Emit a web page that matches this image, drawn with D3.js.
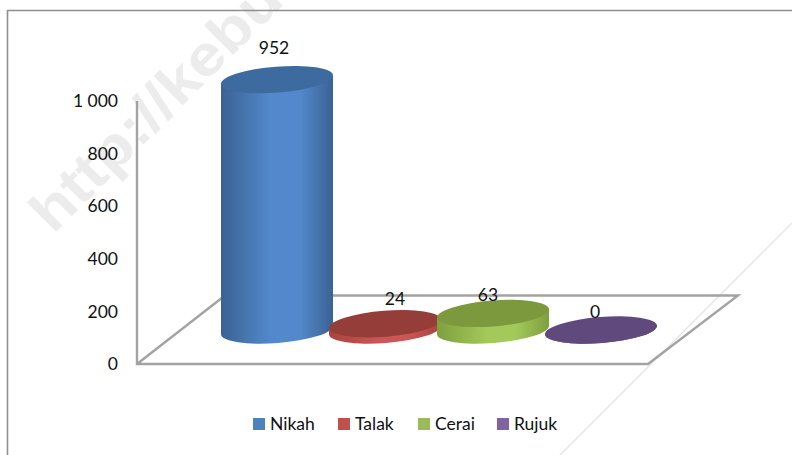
<!DOCTYPE html>
<html><head><meta charset="utf-8">
<script src="https://cdn.jsdelivr.net/npm/d3@7/dist/d3.min.js"></script>
<style>html,body{margin:0;padding:0;background:#fff;overflow:hidden}svg{display:block}
text{font-family:Lato,"Open Sans",sans-serif;fill:#111}</style></head>
<body><svg id="c" width="792" height="455"></svg>
<script>
const categories = ["Nikah","Talak","Cerai","Rujuk"];
const values = [952,24,63,0];
const tickValues = [0,200,400,600,800,1000];
const tickLabels = ["0","200","400","600","800","1 000"];
const bodyDark = ["#3a6293","#a8423f","#7f9f3f","#5c4776"];
const bodyLight = ["#5389cc","#cb5754","#a3c95a","#6b5289"];
const capColors = ["#3e6b9f","#953c39","#7b9a3c","#604a7c"];
const legendColors = ["#4f81bd","#c0504d","#9bbb59","#8064a2"];
const watermark = "http://kebu";

const W=792,H=455,FS=17.5;
const svg=d3.select("#c");
const defs=svg.append("defs");
defs.append("filter").attr("id","soft").append("feGaussianBlur").attr("stdDeviation",0.5);

// watermark (stretched along its baseline, as in the reference)
svg.append("text").attr("transform","translate(53,235) rotate(-45) scale(1.13,1)")
  .attr("font-size",57).attr("font-weight",700)
  .style("font-family","'Liberation Sans',sans-serif").style("fill","#ececec").text(watermark);
svg.append("line").attr("x1",792).attr("y1",223).attr("x2",560).attr("y2",455)
  .attr("stroke","#e6e6e6").attr("stroke-width",1.5);

// chart frame (cropped by the picture on right and bottom)
svg.append("path").attr("d","M7.5,455V10.5H792").attr("fill","none").attr("stroke","#8f8f8f").attr("stroke-width",1.6);

const y=d3.scaleLinear().domain([0,1000]).range([364,101]);
const x=d3.scaleBand().domain(categories).range([223,655]);
const baseCy=330, ry=13, tilt=4.5;
const rx=x.bandwidth()*0.52;
const rad=tilt*Math.PI/180;
const dx=rx*Math.cos(rad), dy=rx*Math.sin(rad);
const h=v=>y(0)-y(v);

// floor and wall
const g=svg.append("g").attr("filter","url(#soft)");
g.append("path").attr("fill","none").attr("stroke","#a3a3a3").attr("stroke-width",2.4).attr("stroke-linejoin","miter")
  .attr("d",`M137,${y(1000)}V${y(0)}H648L738,295.5H225L137,${y(0)}`);

// cylinders
categories.forEach((c,i)=>{
  const gr=defs.append("linearGradient").attr("id","gr"+i).attr("x1",0).attr("x2",1).attr("y1",0).attr("y2",0);
  gr.append("stop").attr("offset","0%").attr("stop-color",bodyDark[i]);
  gr.append("stop").attr("offset","45%").attr("stop-color",bodyLight[i]);
  gr.append("stop").attr("offset","70%").attr("stop-color",bodyLight[i]);
  gr.append("stop").attr("offset","100%").attr("stop-color",bodyDark[i]);
});
const bars=g.selectAll("g.bar").data(categories.map((c,i)=>({c,i,v:values[i]}))).join("g").attr("class","bar");
bars.append("path").attr("fill",d=>`url(#gr${d.i})`)
  .attr("d",d=>{
    const cx=x(d.c)+x.bandwidth()/2, t=baseCy-h(d.v);
    return `M${cx-dx},${t+dy}L${cx-dx},${baseCy+dy}A${rx},${ry} ${-tilt} 0 0 ${cx+dx},${baseCy-dy}L${cx+dx},${t-dy}Z`;
  });
bars.append("ellipse").attr("fill",d=>capColors[d.i])
  .attr("rx",rx).attr("ry",ry)
  .attr("transform",d=>`translate(${x(d.c)+x.bandwidth()/2},${baseCy-h(d.v)}) rotate(${-tilt})`);

// axis
const axis=d3.axisLeft(y).tickValues(tickValues).tickSize(0).tickPadding(0)
  .tickFormat(v=>tickLabels[tickValues.indexOf(v)]);
const ax=svg.append("g").attr("transform","translate(118,0)").call(axis);
ax.select(".domain").remove();
ax.selectAll("text").attr("font-size",FS).style("font-family",null);

// data labels: nudged from the cap of each cylinder
const labelDx=[-3,10,-5,-6], labelDy=[-19,-12,-5,-5];
svg.selectAll("text.lab").data(categories.map((c,i)=>({c,i,v:values[i]}))).join("text").attr("class","lab")
  .attr("x",d=>x(d.c)+x.bandwidth()/2+labelDx[d.i])
  .attr("y",d=>baseCy-h(d.v)-ry+labelDy[d.i]+6)
  .attr("text-anchor","middle").attr("font-size",FS).text(d=>d.v);

// legend
const legendX=[253,338,418,497];
const lg=svg.selectAll("g.leg").data(categories).join("g").attr("class","leg")
  .attr("transform",(d,i)=>`translate(${legendX[i]},424)`);
lg.append("rect").attr("y",-6).attr("width",12).attr("height",12).attr("fill",(d,i)=>legendColors[i]);
lg.append("text").attr("x",17).attr("y",6).attr("font-size",FS).text(d=>d);
</script></body></html>
